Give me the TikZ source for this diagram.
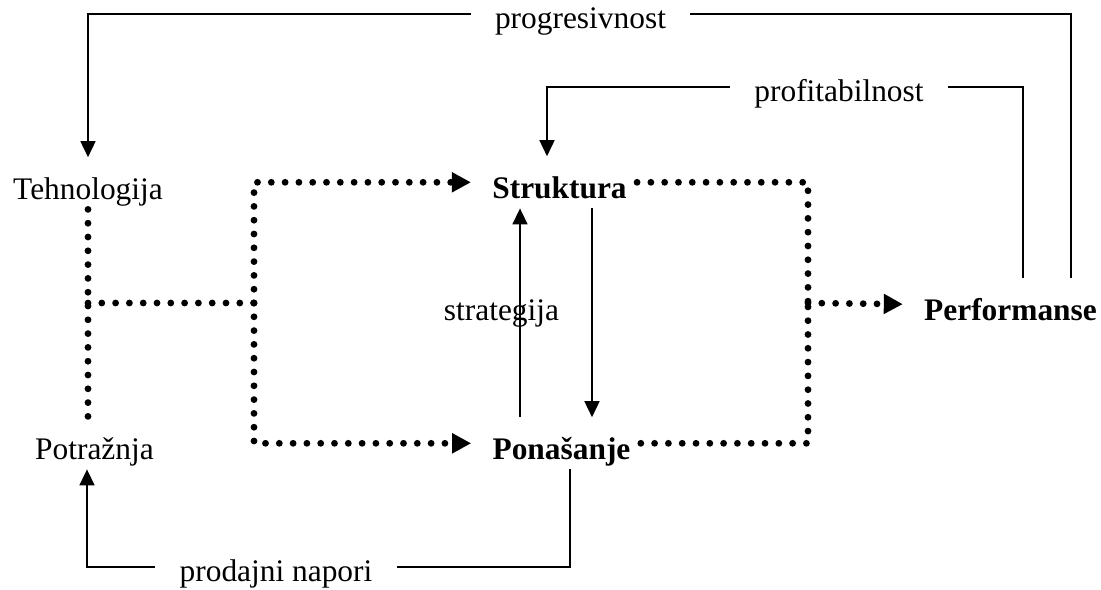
\documentclass[tikz,border=0pt]{standalone}
\usepackage{fontspec}
\setmainfont{Liberation Serif}
\usetikzlibrary{arrows.meta,calc}

\begin{document}
\begin{tikzpicture}[x=0.5pt,y=-0.5pt,font=\fontsize{15.7}{18}\selectfont,
   term/.style={anchor=base,text height=15.7pt,text depth=0pt,inner xsep=5pt,inner ysep=5pt},
   key/.style={term,font=\fontsize{15.7}{18}\selectfont\bfseries},
   lbl/.style={anchor=north,text height=7.2pt,text depth=0pt,inner ysep=0pt,inner xsep=12pt},
   line/.style={line width=0.8pt},
   arr/.style={line,-{Triangle[length=8pt,width=7.5pt]}},
   dots/.style={line width=3.4pt,line cap=round,dash pattern=on 0pt off 6.9pt},
   darr/.style={dots,-{Triangle[length=9.5pt,width=9.5pt]},shorten >=5.5pt}]
   \useasboundingbox (0,0) rectangle (1101,589);
   \node[term] (tech) at (88,199) {Tehnologija};
   \node[term] (dem) at (94.5,459) {Potražnja};
   \node[key] (str) at (559.5,198) {Struktura};
   \node[key] (pon) at (561.5,459) {Ponašanje};
   \node[key] (perf) at (1010.5,320) {Performanse};
   \node[anchor=base] (strat) at (501.5,320) {strategija};
   \node[lbl] (prog) at (580.5,14) {progresivnost};
   \node[lbl] (prof) at (839,87) {profitabilnost};
   \node[lbl] (nap) at (276,567) {prodajni napori};
   \coordinate (split) at (254,303);
   \coordinate (join) at (808,303);
   \draw[dots] (tech.south) -- (tech.south |- dem.north);
   \draw[dots] (split -| tech) -- (split);
   \draw[darr] (split) |- (str.west);
   \draw[darr] (split) |- (pon.west);
   \draw[dots] (str.east) -| (join);
   \draw[dots] (pon.east) -| (join);
   \draw[darr] (join) -- (perf.west);
   \coordinate (up) at ($(pon.north)+(-41.5,0)$);
   \coordinate (down) at ($(str.south)+(32.5,0)$);
   \draw[arr] (up) -- (up |- str.south);
   \draw[arr] (down) -- (down |- pon.north);
   \draw[line] ($(perf.north)+(60.5,0)$) |- (prog.north east);
   \draw[arr] (prog.north west) -| (tech.north);
   \draw[line] ($(perf.north)+(12.5,0)$) |- (prof.north east);
   \draw[arr] (prof.north west) -| ($(str.north)+(-12.5,0)$);
   \draw[line] ($(pon.south)+(8.5,0)$) |- (nap.north east);
   \draw[arr] (nap.north west) -| ($(dem.south)+(-7.5,0)$);
\end{tikzpicture}
\end{document}
